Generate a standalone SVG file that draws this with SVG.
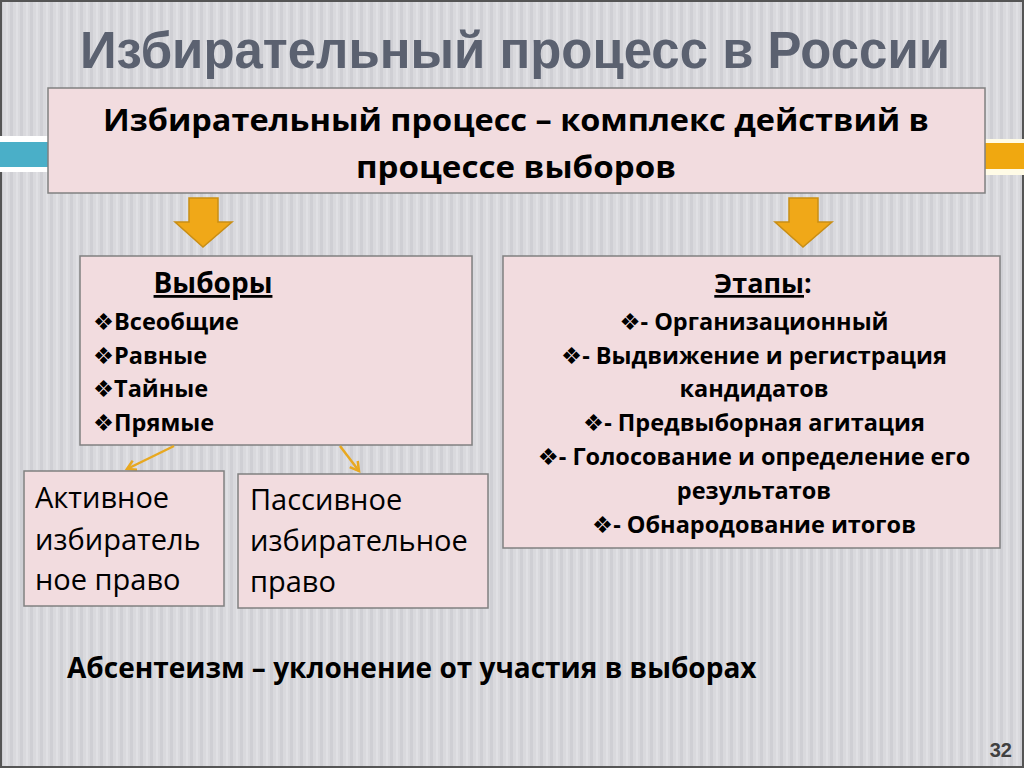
<svg xmlns="http://www.w3.org/2000/svg" width="1024" height="768" viewBox="0 0 1024 768">
<defs>
<pattern id="stripes" x="0" y="0" width="10" height="10" patternUnits="userSpaceOnUse">
<rect width="10" height="10" fill="#d9d9dd"/>
<rect x="0" width="3" height="10" fill="#cfcfd4"/>
<rect x="6" width="2" height="10" fill="#e0e0e4"/>
</pattern>
<marker id="ah" viewBox="0 0 10 10" refX="8" refY="5" markerWidth="5" markerHeight="5" orient="auto">
<path d="M1,1 L8,5 L1,9" fill="none" stroke="#e8a820" stroke-width="2"/>
</marker>
<style>
.box{fill:#f2dcdf;stroke:#808080;stroke-width:1.5}
.t{font-family:"Open Sans","Noto Sans","DejaVu Sans",sans-serif;font-weight:bold;fill:#000}
.n{font-family:"Open Sans","Noto Sans","DejaVu Sans",sans-serif;font-weight:normal;fill:#000}
.arrow{fill:#f0a818;stroke:#c98e14;stroke-width:1.5}
.con{stroke:#e8a820;stroke-width:2.5;fill:none}
</style>
</defs>
<rect width="1024" height="768" fill="url(#stripes)"/>
<rect x="1" y="1" width="1022" height="766" fill="none" stroke="#555" stroke-width="2"/>
<!-- side bars -->
<rect x="0" y="136" width="48" height="36" fill="#fff"/>
<rect x="0" y="142" width="48" height="25" fill="#4aafc8"/>
<rect x="985" y="139" width="39" height="36" fill="#fffbe6"/>
<rect x="985" y="143" width="39" height="26" fill="#f0a810"/>
<text x="515" y="68" text-anchor="middle" font-family="Liberation Sans, Arial, sans-serif" font-weight="bold" font-size="51" fill="#5b6170" textLength="870" lengthAdjust="spacingAndGlyphs">Избирательный процесс в России</text>
<g id="definition">
<rect class="box" x="48" y="88" width="937" height="105"/>
<text class="t" x="516" y="131" text-anchor="middle" font-size="30" textLength="826" lengthAdjust="spacingAndGlyphs">Избирательный процесс – комплекс действий в</text>
<text class="t" x="516" y="178" text-anchor="middle" font-size="30" textLength="320" lengthAdjust="spacingAndGlyphs">процессе выборов</text>
</g>
<g id="arrow-left"><path class="arrow" d="M189,198 H218 V222 H232 L203,247 L175,222 H189 Z"/></g>
<g id="arrow-right"><path class="arrow" d="M789,198 H818 V222 H832 L803,247 L775,222 H789 Z"/></g>
<g id="elections">
<rect class="box" x="80" y="256" width="392" height="189"/>
<text class="t" x="213" y="293" text-anchor="middle" font-size="28" text-decoration="underline">Выборы</text>
<text class="t" x="93" y="330" font-size="23.5">❖Всеобщие</text>
<text class="t" x="93" y="364" font-size="23.5">❖Равные</text>
<text class="t" x="93" y="397" font-size="23.5">❖Тайные</text>
<text class="t" x="93" y="431" font-size="23.5">❖Прямые</text>
</g>
<g id="stages">
<rect class="box" x="503" y="256" width="497" height="292"/>
<text class="t" x="763" y="293" text-anchor="middle" font-size="27"><tspan text-decoration="underline">Этапы</tspan>:</text>
<text class="t" x="754" y="330" text-anchor="middle" font-size="23.5">❖- Организационный</text>
<text class="t" x="754" y="364" text-anchor="middle" font-size="23.5">❖- Выдвижение и регистрация</text>
<text class="t" x="754" y="397" text-anchor="middle" font-size="23.5">кандидатов</text>
<text class="t" x="754" y="431" text-anchor="middle" font-size="23.5">❖- Предвыборная агитация</text>
<text class="t" x="754" y="465" text-anchor="middle" font-size="23.5">❖- Голосование и определение его</text>
<text class="t" x="754" y="499" text-anchor="middle" font-size="23.5">результатов</text>
<text class="t" x="754" y="533" text-anchor="middle" font-size="23.5">❖- Обнародование итогов</text>
</g>
<g id="connectors">
<line class="con" x1="174" y1="446" x2="127" y2="469" marker-end="url(#ah)"/>
<line class="con" x1="340" y1="446" x2="359" y2="471" marker-end="url(#ah)"/>
</g>
<g id="active">
<rect class="box" x="24" y="471" width="200" height="135"/>
<text class="n" x="35" y="508" font-size="29">Активное</text>
<text class="n" x="35" y="550" font-size="29">избиратель</text>
<text class="n" x="35" y="590" font-size="29">ное право</text>
</g>
<g id="passive">
<rect class="box" x="238" y="474" width="250" height="134"/>
<text class="n" x="250" y="510" font-size="29">Пассивное</text>
<text class="n" x="250" y="551" font-size="29">избирательное</text>
<text class="n" x="250" y="592" font-size="29">право</text>
</g>
<text class="t" x="67" y="678" font-size="28">Абсентеизм – уклонение от участия в выборах</text>
<text x="1012" y="757" text-anchor="end" font-family="Liberation Sans, Arial, sans-serif" font-weight="bold" font-size="20" fill="#404040">32</text>
</svg>
